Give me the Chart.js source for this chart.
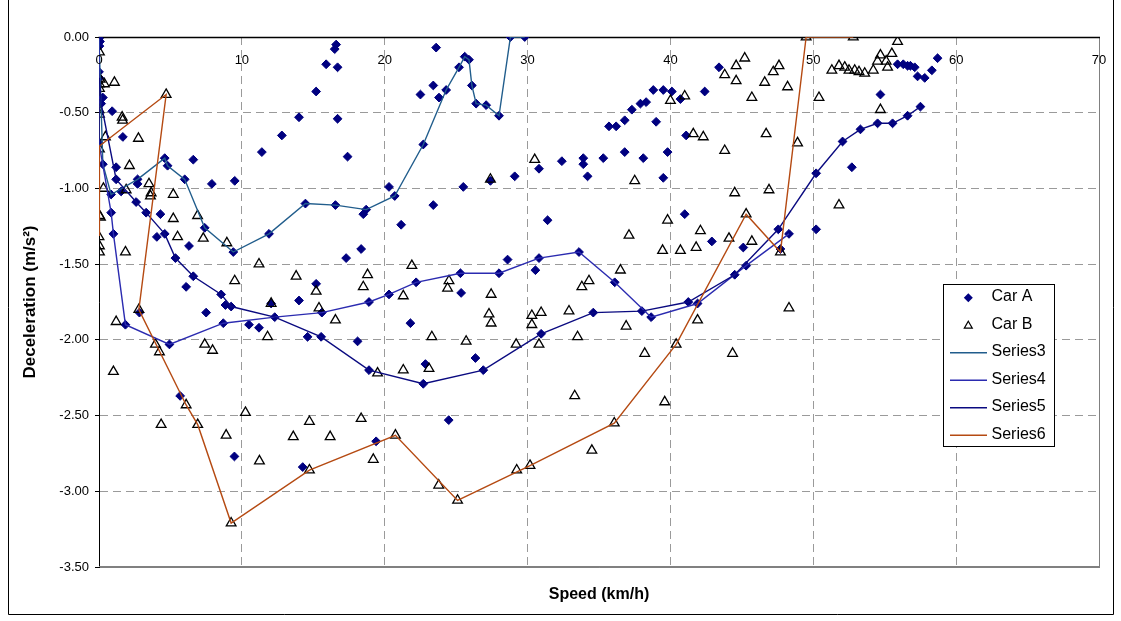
<!DOCTYPE html>
<html><head><meta charset="utf-8">
<script src="https://cdn.jsdelivr.net/npm/chart.js@4.4.0/dist/chart.umd.min.js"></script>
<style>html,body{margin:0;padding:0;background:#fff}#wrap{width:1121px;height:621px}</style>
</head><body><div id="wrap"><canvas id="c" width="1121" height="621"></canvas></div>
<script>
const FONT = '"Liberation Sans", Arial, sans-serif';
const xTickValues = [0, 10, 20, 30, 40, 50, 60, 70];
const xTickLabels = ['0', '10', '20', '30', '40', '50', '60', '70'];
const yTickValues = [-3.5, -3.0, -2.5, -2.0, -1.5, -1.0, -0.5, 0];
const yTickLabels = ['-3.50', '-3.00', '-2.50', '-2.00', '-1.50', '-1.00', '-0.50', '0.00'];
const seriesNames = ['Car A', 'Car B', 'Series3', 'Series4', 'Series5', 'Series6'];
const xTitle = 'Speed (km/h)';
const yTitle = 'Deceleration (m/s²)';

const carA = [
[0.00,-0.01],[0.07,-0.03],[0.03,-0.06],
[0.00,-0.23],[0.03,-0.27],[0.27,-0.40],[0.15,-0.44],[0.92,-0.49],[0.00,-0.70],[1.67,-0.66],[0.27,-0.84],[1.20,-0.86],[1.20,-0.94],[0.85,-1.04],[1.55,-1.02],[2.70,-0.94],[2.70,-0.97],[2.60,-1.09],[3.30,-1.16],[0.85,-1.16],[1.01,-1.30],
[4.60,-0.80],[4.80,-0.85],[6.00,-0.94],[6.60,-0.81],[7.90,-0.97],[9.50,-0.95],[11.40,-0.76],[12.80,-0.65],[14.00,-0.53],[15.20,-0.36],[15.90,-0.18],[16.70,-0.20],[16.60,-0.05],[16.50,-0.08],[16.70,-0.54],[14.45,-1.10],[16.55,-1.11],
[4.30,-1.17],[4.05,-1.32],[4.60,-1.30],[6.30,-1.38],[5.35,-1.46],[7.40,-1.26],[9.40,-1.42],[11.90,-1.30],[6.60,-1.58],[6.10,-1.65],[8.55,-1.70],[8.85,-1.77],[9.25,-1.78],[7.50,-1.82],[1.85,-1.90],[2.83,-1.82],[4.93,-2.03],[8.70,-1.89],[10.50,-1.90],[11.20,-1.92],[12.05,-1.76],[12.30,-1.85],[14.00,-1.74],[15.20,-1.63],[14.60,-1.98],[15.55,-1.98],[15.60,-1.82],[17.30,-1.46],
[18.50,-1.17],[18.70,-1.14],[21.15,-1.24],[31.40,-1.21],[18.35,-1.40],[28.60,-1.47],[30.55,-1.54],[33.60,-1.42],[30.80,-1.46],[18.90,-1.75],[20.30,-1.70],[22.20,-1.62],[25.30,-1.56],[28.00,-1.56],[25.35,-1.69],[21.80,-1.89],[18.10,-2.01],[18.90,-2.20],[22.70,-2.29],[22.85,-2.16],[26.35,-2.12],[26.90,-2.20],[30.95,-1.96],[34.60,-1.82],
[41.00,-1.17],[42.90,-1.35],[45.10,-1.39],[50.20,-1.27],[47.55,-1.27],[48.30,-1.30],[47.70,-1.40],[36.10,-1.62],[38.00,-1.81],[38.65,-1.85],[41.25,-1.75],[41.90,-1.76],[44.50,-1.57],[45.30,-1.51],
[5.68,-2.37],[9.48,-2.77],[14.26,-2.84],[19.40,-2.67],[24.48,-2.53],
[23.60,-0.07],[17.40,-0.79],[22.50,-0.38],[23.40,-0.32],[23.80,-0.40],[24.30,-0.35],[25.20,-0.20],[25.60,-0.13],[25.90,-0.15],[26.10,-0.32],[26.40,-0.44],[27.10,-0.45],[28.00,-0.52],[28.80,0.00],[29.80,0.00],[22.70,-0.71],[20.30,-0.99],[20.70,-1.05],[25.50,-0.99],[23.40,-1.11],[29.10,-0.92],[30.80,-0.87],[32.40,-0.82],[33.90,-0.80],[33.90,-0.84],[34.20,-0.92],[27.40,-0.95],
[43.40,-0.20],[42.40,-0.36],[40.70,-0.41],[40.10,-0.36],[39.50,-0.35],[38.80,-0.35],[38.30,-0.43],[37.90,-0.44],[37.30,-0.48],[36.80,-0.55],[36.20,-0.59],[35.70,-0.59],[39.00,-0.56],[41.10,-0.65],[35.30,-0.80],[36.80,-0.76],[38.10,-0.80],[39.80,-0.76],[39.50,-0.93],[50.20,-0.90],[52.05,-0.69],
[55.90,-0.18],[56.30,-0.18],[56.60,-0.19],[56.80,-0.19],[57.10,-0.20],[57.30,-0.26],[57.80,-0.27],[58.30,-0.22],[58.70,-0.14],[54.70,-0.38],[52.70,-0.86],[53.30,-0.61],[54.50,-0.57],[55.55,-0.57],[56.60,-0.52],[57.50,-0.46]
];

const carB = [
[0.03,-0.10],[0.08,-0.28],[0.03,-0.31],[0.38,-0.31],[1.08,-0.30],[0.03,-0.34],[4.70,-0.38],[0.00,-0.48],[0.03,-0.51],[1.62,-0.53],[1.65,-0.55],[0.45,-0.66],[2.76,-0.67],[0.03,-0.74],[2.13,-0.85],[0.31,-1.00],[1.90,-1.01],[3.50,-0.97],[3.65,-1.03],[3.60,-1.05],[5.20,-1.04],
[0.03,-1.18],[0.10,-1.19],[0.00,-1.32],[0.03,-1.38],[0.03,-1.42],[1.85,-1.42],[5.20,-1.20],[5.50,-1.32],[6.90,-1.18],[7.30,-1.33],[8.95,-1.36],[9.50,-1.61],[11.20,-1.50],[13.80,-1.58],[15.20,-1.68],[12.05,-1.76],[15.40,-1.79],[16.55,-1.87],[1.20,-1.88],[2.79,-1.80],[3.95,-2.03],[4.23,-2.08],[7.40,-2.03],[7.95,-2.07],[11.80,-1.98],[1.01,-2.21],
[6.10,-2.43],[4.35,-2.56],[6.91,-2.56],[8.90,-2.63],[10.25,-2.48],[11.23,-2.80],[13.60,-2.64],[14.73,-2.54],[16.18,-2.64],[14.73,-2.86],[9.25,-3.21],
[18.35,-2.52],[19.20,-2.79],[20.75,-2.63],[23.78,-2.96],[25.10,-3.06],[29.24,-2.86],[30.17,-2.83],[33.30,-2.37],[34.50,-2.73],[39.60,-2.41],[36.07,-2.55],
[18.80,-1.57],[18.50,-1.65],[21.90,-1.51],[21.30,-1.71],[24.50,-1.61],[24.40,-1.66],[27.45,-1.70],[27.30,-1.83],[27.45,-1.89],[30.30,-1.84],[30.30,-1.90],[30.95,-1.82],[32.90,-1.81],[33.80,-1.65],[34.30,-1.61],[33.50,-1.98],[30.80,-2.03],[29.20,-2.03],[25.70,-2.01],[23.30,-1.98],[23.10,-2.19],[21.30,-2.20],[19.50,-2.22],
[39.80,-1.21],[37.10,-1.31],[42.10,-1.28],[44.10,-1.33],[45.70,-1.35],[39.45,-1.41],[40.70,-1.41],[41.80,-1.39],[47.70,-1.42],[45.30,-1.17],[36.50,-1.54],[48.30,-1.79],[41.90,-1.87],[36.90,-1.91],[40.40,-2.03],[38.20,-2.09],[44.35,-2.09],
[27.40,-0.94],[30.50,-0.81],
[40.00,-0.42],[41.00,-0.39],[43.80,-0.25],[44.60,-0.19],[45.20,-0.14],[44.60,-0.29],[45.70,-0.40],[46.60,-0.30],[47.20,-0.23],[47.60,-0.19],[48.20,-0.33],[49.50,0.00],[50.40,-0.40],[51.30,-0.22],[51.80,-0.19],[41.60,-0.64],[42.30,-0.66],[46.70,-0.64],[43.80,-0.75],[48.90,-0.70],[37.50,-0.95],[44.50,-1.03],[46.90,-1.01],[51.80,-1.11],
[52.80,0.00],[55.90,-0.03],[52.20,-0.20],[52.50,-0.22],[52.90,-0.22],[53.20,-0.23],[53.60,-0.24],[54.20,-0.22],[54.50,-0.16],[54.70,-0.12],[55.10,-0.16],[55.20,-0.20],[55.50,-0.11],[54.70,-0.48]
];

const series3 = [[0.00,-0.01],[0.27,-0.84],[0.85,-1.04],[2.70,-0.94],[4.60,-0.80],[4.80,-0.85],[6.00,-0.94],[7.40,-1.26],[9.40,-1.42],[11.90,-1.30],[14.45,-1.10],[16.55,-1.11],[18.70,-1.14],[20.70,-1.05],[22.70,-0.71],[24.30,-0.35],[25.20,-0.20],[25.60,-0.13],[25.90,-0.15],[26.10,-0.32],[26.40,-0.44],[27.10,-0.45],[28.00,-0.52],[28.80,0.00],[29.80,0.00]];
const series4 = [[0.00,-0.01],[0.00,-0.70],[0.85,-1.16],[1.01,-1.30],[1.85,-1.90],[4.93,-2.03],[8.70,-1.89],[12.30,-1.85],[15.60,-1.82],[18.90,-1.75],[20.30,-1.70],[22.20,-1.62],[25.30,-1.56],[28.00,-1.56],[30.80,-1.46],[33.60,-1.42],[36.10,-1.62],[38.65,-1.85],[41.90,-1.76],[45.30,-1.51],[48.30,-1.30]];
const series5 = [[0.03,-0.27],[0.15,-0.44],[1.20,-0.94],[2.60,-1.09],[3.30,-1.16],[4.60,-1.30],[5.35,-1.46],[6.60,-1.58],[8.55,-1.70],[9.25,-1.78],[12.30,-1.85],[15.55,-1.98],[18.90,-2.20],[22.70,-2.29],[26.90,-2.20],[30.95,-1.96],[34.60,-1.82],[38.00,-1.81],[41.25,-1.75],[44.50,-1.57],[47.55,-1.27],[50.20,-0.90],[52.05,-0.69],[53.30,-0.61],[54.50,-0.57],[55.55,-0.57],[56.60,-0.52],[57.50,-0.46]];
const series6 = [[0.00,-1.31],[0.03,-0.72],[4.70,-0.38],[2.79,-1.80],[6.10,-2.43],[6.91,-2.56],[9.25,-3.21],[14.73,-2.86],[20.75,-2.63],[25.10,-3.06],[30.17,-2.83],[36.07,-2.55],[40.40,-2.03],[45.30,-1.17],[47.70,-1.42],[49.50,0.00],[52.80,0.00]];

const COLORS = {carA:'#000080', carB:'#000000', s3:'#215d8c', s4:'#2b2bb0', s5:'#0a0a80', s6:'#b54a12'};
const toXY = a => a.map(p => ({x: p[0], y: p[1]}));

const bgPlugin = {
  id: 'bg',
  beforeDraw(chart) {
    const c = chart.ctx;
    c.save();
    c.fillStyle = '#fff';
    c.fillRect(0, 0, chart.width, chart.height);
    c.strokeStyle = '#000';
    c.lineWidth = 1;
    c.beginPath();
    c.moveTo(8.5, 0); c.lineTo(8.5, 614.5); c.lineTo(1113.5, 614.5); c.lineTo(1113.5, 0);
    c.stroke();
    c.restore();
  },
  beforeDatasetsDraw(chart) {
    const c = chart.ctx, a = chart.chartArea;
    c.save();
    c.strokeStyle = '#808080'; c.lineWidth = 1;
    c.beginPath();
    c.moveTo(Math.round(a.right) + 0.5, a.top); c.lineTo(Math.round(a.right) + 0.5, a.bottom);
    c.moveTo(a.left, Math.round(a.bottom) - 0.5); c.lineTo(a.right, Math.round(a.bottom) - 0.5);
    c.stroke();
    c.strokeStyle = '#000'; c.lineWidth = 1.5;
    c.beginPath();
    c.moveTo(a.left - 0.5, a.top + 0.5); c.lineTo(a.right + 1, a.top + 0.5);
    c.stroke();
    c.restore();
  },
  afterDraw(chart) {
    const c = chart.ctx, a = chart.chartArea, xs = chart.scales.x;
    c.save();
    c.fillStyle = '#000';
    c.font = '13px ' + FONT;
    c.textAlign = 'center';
    c.textBaseline = 'middle';
    xTickValues.forEach((v, i) => c.fillText(xTickLabels[i], xs.getPixelForValue(v), a.top + 23));
    const bx = 943.5, by = 284.5, bw = 111, bh = 162;
    c.fillStyle = '#fff';
    c.fillRect(bx, by, bw, bh);
    c.strokeStyle = '#000'; c.lineWidth = 1;
    c.strokeRect(bx, by, bw, bh);
    c.font = '16px ' + FONT;
    c.textAlign = 'left';
    c.textBaseline = 'middle';
    chart.data.datasets.forEach((ds, i) => {
      const y = 296.7 + i * 27.5;
      const mx = 968.3;
      if (i === 0) {
        c.fillStyle = COLORS.carA;
        c.beginPath();
        c.moveTo(mx - 4.5, y + 1); c.lineTo(mx, y - 3.5); c.lineTo(mx + 4.5, y + 1); c.lineTo(mx, y + 5.5);
        c.closePath(); c.fill();
      } else if (i === 1) {
        c.strokeStyle = '#000'; c.lineWidth = 1.2;
        c.beginPath();
        c.moveTo(mx, y - 3); c.lineTo(mx + 4, y + 4); c.lineTo(mx - 4, y + 4);
        c.closePath(); c.stroke();
      } else {
        c.strokeStyle = ds.borderColor; c.lineWidth = 1.5;
        c.beginPath();
        c.moveTo(950, y + 1); c.lineTo(987, y + 1);
        c.stroke();
      }
      c.fillStyle = '#000';
      c.fillText(ds.label, 991.5, y);
    });
    c.restore();
  }
};

const lineDs = (label, data, color, order) => ({
  label, data: toXY(data), showLine: true, pointRadius: 0, pointHoverRadius: 0,
  borderColor: color, backgroundColor: color, borderWidth: 1.4, order
});

new Chart(document.getElementById('c'), {
  type: 'scatter',
  data: {
    datasets: [
      {label: seriesNames[0], data: toXY(carA), pointStyle: 'rectRot', pointRadius: 4.4, pointBackgroundColor: COLORS.carA, pointBorderColor: COLORS.carA, pointBorderWidth: 1, borderColor: COLORS.carA, backgroundColor: COLORS.carA, order: 6},
      {label: seriesNames[1], data: toXY(carB), pointStyle: 'triangle', pointRadius: 5.6, pointBackgroundColor: 'rgba(255,255,255,0)', pointBorderColor: '#000', pointBorderWidth: 1.3, borderColor: '#000', backgroundColor: 'rgba(255,255,255,0)', order: 5},
      lineDs(seriesNames[2], series3, COLORS.s3, 4),
      lineDs(seriesNames[3], series4, COLORS.s4, 3),
      lineDs(seriesNames[4], series5, COLORS.s5, 2),
      lineDs(seriesNames[5], series6, COLORS.s6, 1)
    ]
  },
  options: {
    responsive: false, animation: false, devicePixelRatio: 1,
    layout: {padding: {left: 0, top: 37, right: 22, bottom: 0}},
    plugins: {legend: {display: false}, tooltip: {enabled: false}},
    scales: {
      x: {
        type: 'linear', position: 'bottom', min: 0, max: 70,
        ticks: {display: false, stepSize: 10},
        grid: {color: '#9a9a9a', lineWidth: 1, drawTicks: false},
        border: {display: true, color: '#808080', width: 1, dash: [8, 5]},
        title: {display: true, text: xTitle, color: '#000', font: {family: FONT, size: 16, weight: 'bold'}, padding: {top: 0, bottom: 17}},
        afterFit: s => { s.height = 54; }
      },
      y: {
        type: 'linear', min: -3.5, max: 0,
        ticks: {
          stepSize: 0.5, color: '#000', font: {family: FONT, size: 13}, padding: 6,
          callback: v => { const i = yTickValues.findIndex(t => Math.abs(t - v) < 1e-9); return i >= 0 ? yTickLabels[i] : ''; }
        },
        grid: {color: '#9a9a9a', lineWidth: 1, tickLength: 4, tickColor: '#000', tickBorderDash: []},
        border: {display: true, color: '#000', width: 1, dash: [8, 5]},
        title: {display: true, text: yTitle, color: '#000', font: {family: FONT, size: 17, weight: 'bold'}, padding: {top: 20, bottom: 0}},
        afterFit: s => { s.width = 99; }
      }
    }
  },
  plugins: [bgPlugin]
});
</script>
</body></html>
